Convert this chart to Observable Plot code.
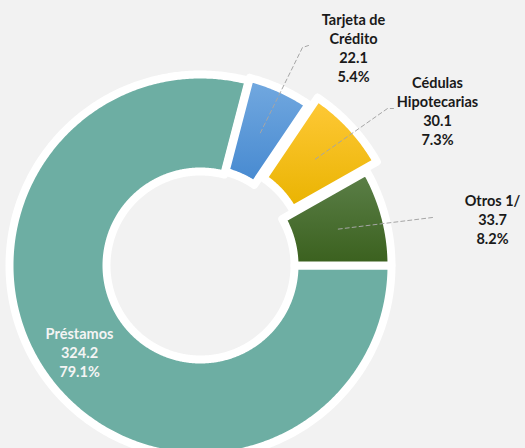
<!DOCTYPE html>
<html><head><meta charset="utf-8">
<script src="https://cdn.jsdelivr.net/npm/d3@7"></script>
<script src="https://cdn.jsdelivr.net/npm/@observablehq/plot@0.6"></script>
<style>html,body{margin:0;padding:0;background:#F2F2F2;overflow:hidden}</style>
</head><body><div id="chart"></div>
<script>
// ---- data ----
const categories = ["Préstamos", "Tarjeta de Crédito", "Cédulas Hipotecarias", "Otros 1/"];
const labelLines = [["Préstamos"], ["Tarjeta de", "Crédito"], ["Cédulas", "Hipotecarias"], ["Otros 1/"]];
const values = [324.2, 22.1, 30.1, 33.7];
const percents = [79.1, 5.4, 7.3, 8.2];

// ---- layout ----
const W = 525, H = 448, cx = 200, cy = 265;
const startAngle = 90;           // degrees clockwise from 12 o'clock
const rOuter = 191, rInner = 94;
const explode = [0, 3, 14, 0];
const fills = ["#6DAEA3", "url(#gBlue)", "url(#gGold)", "url(#gGreen)"];
const textColors = ["#F4F4F4", "#1A1A1A", "#1A1A1A", "#1A1A1A"];
const labelPos = [[79, 351], [353, 46.5], [437, 109.5], [492, 218.5]]; // pixel centres of label blocks
const leaderPath = [null, [[302, 47], [308, 45]], [[387, 108], [393, 108]], [[432, 217]]];

const toX = px => px - cx, toY = py => cy - py;
const rad = d => d * Math.PI / 180;
const total = d3.sum(values);

let a = startAngle;
const slices = values.map((v, i) => {
  const a0 = a, a1 = a + v / total * 360; a = a1;
  return {i, a0, a1, mid: (a0 + a1) / 2};
});

const slicePts = [];
const centroids = [];
for (const s of slices) {
  const e = explode[s.i];
  const ox = e * Math.sin(rad(s.mid)), oy = e * Math.cos(rad(s.mid));
  const n = Math.ceil((s.a1 - s.a0) / 0.5);
  const pts = [];
  for (let k = 0; k <= n; k++) {
    const t = rad(s.a0 + (s.a1 - s.a0) * k / n);
    pts.push({x: ox + rOuter * Math.sin(t), y: oy + rOuter * Math.cos(t), cat: categories[s.i]});
  }
  for (let k = n; k >= 0; k--) {
    const t = rad(s.a0 + (s.a1 - s.a0) * k / n);
    pts.push({x: ox + rInner * Math.sin(t), y: oy + rInner * Math.cos(t), cat: categories[s.i]});
  }
  pts.push({...pts[0]});
  slicePts.push(pts);
  const rm = (rOuter + rInner) / 2;
  centroids.push([ox + rm * Math.sin(rad(s.mid)), oy + rm * Math.cos(rad(s.mid))]);
}

const leaders = [];
leaderPath.forEach((p, i) => {
  if (!p) return;
  leaders.push({x: centroids[i][0], y: centroids[i][1], cat: categories[i]});
  for (const [px, py] of p) leaders.push({x: toX(px), y: toY(py), cat: categories[i]});
});

const labels = categories.map((c, i) => ({
  x: toX(labelPos[i][0]), y: toY(labelPos[i][1]),
  text: [...labelLines[i], values[i].toFixed(1), percents[i].toFixed(1) + "%"].join("\n"),
  color: textColors[i]
}));

const order = [0, 1, 3, 2];
const plot = Plot.plot({
  width: W, height: H,
  margin: 0,
  style: {background: "#F2F2F2", overflow: "visible"},
  x: {domain: [-cx, W - cx], axis: null},
  y: {domain: [-(H - cy), cy], axis: null},
  marks: [
    ...order.map(i => Plot.line(slicePts[i], {
      x: "x", y: "y", fill: fills[i], stroke: "white", strokeWidth: 8,
      strokeLinejoin: "round", curve: "linear"
    })),
    Plot.line(leaders, {x: "x", y: "y", z: "cat", stroke: "#A6A6A6", strokeWidth: 1, strokeDasharray: "4,3"}),
    Plot.text(labels, {
      x: "x", y: "y", text: "text", fill: "color",
      fontSize: 14.5, fontWeight: "bold", fontFamily: "Lato, 'Open Sans', sans-serif",
      lineHeight: 19 / 14.5, lineAnchor: "middle", textAnchor: "middle"
    })
  ]
});

const ns = "http://www.w3.org/2000/svg";
const defs = document.createElementNS(ns, "defs");
const grads = [["gBlue", "#73A9E0", "#4689D0"], ["gGold", "#FFC938", "#E9B300"], ["gGreen", "#5C8049", "#3A601D"]];
for (const [id, c0, c1] of grads) {
  const g = document.createElementNS(ns, "linearGradient");
  g.setAttribute("id", id);
  g.setAttribute("x1", "0"); g.setAttribute("y1", "0"); g.setAttribute("x2", "0"); g.setAttribute("y2", "1");
  for (const [off, col] of [["0", c0], ["1", c1]]) {
    const st = document.createElementNS(ns, "stop");
    st.setAttribute("offset", off); st.setAttribute("stop-color", col);
    g.appendChild(st);
  }
  defs.appendChild(g);
}
plot.insertBefore(defs, plot.firstChild);
document.getElementById("chart").appendChild(plot);
</script>
</body></html>
